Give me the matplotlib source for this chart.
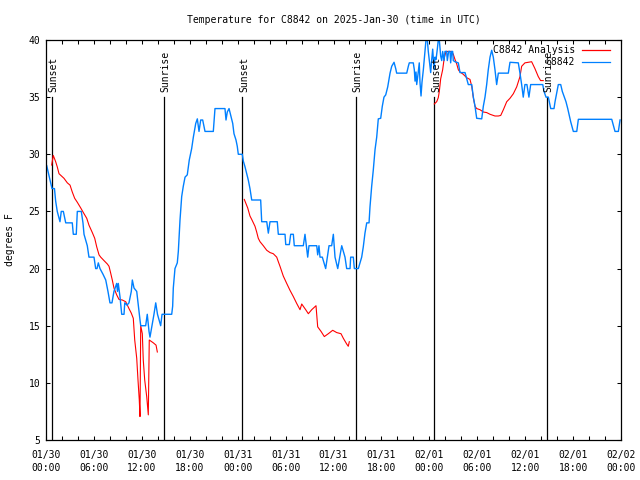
import matplotlib
matplotlib.use("Agg")
import matplotlib.pyplot as plt
from datetime import datetime, timedelta

# ---- data (hours since 2025-01-30 00:00 UTC) ----
obs_hours = [0.09, 0.59, 0.75, 1.06, 1.21, 1.41, 1.75, 1.91, 2.17, 2.47, 3.29, 3.42, 3.79, 3.92,
             4.42, 4.63, 4.76, 5.17, 5.38, 6.01, 6.22, 6.39, 6.55, 6.76, 7.14, 7.48, 7.76, 8.01,
             8.26, 8.51, 8.85, 8.95, 9.05, 9.27, 9.48, 9.77, 9.86, 10.14, 10.39, 10.68, 10.81,
             11.02, 11.36, 11.52, 11.77, 11.86, 12.48, 12.68, 12.90, 13.02, 13.27, 13.52, 13.74,
             13.96, 14.36, 14.53, 14.78, 15.74, 15.86, 15.94, 16.15, 16.44, 16.57, 16.78, 16.99,
             17.19, 17.41, 17.69, 17.94, 18.24, 18.45, 18.75, 18.95, 19.16, 19.37, 19.62, 19.91,
             20.95, 21.16, 22.41, 22.54, 22.70, 22.92, 23.38, 23.54, 23.79, 23.95, 24.08, 24.58,
             24.71, 24.92, 25.13, 25.33, 25.54, 25.76, 26.88, 27.01, 27.64, 27.84, 28.05, 28.96,
             29.09, 29.93, 30.02, 30.47, 30.64, 30.97, 31.09, 32.22, 32.43, 32.77, 32.93, 33.90,
             34.02, 34.18, 34.31, 34.60, 35.02, 35.44, 35.77, 35.98, 36.19, 36.53, 37.03, 37.44,
             37.65, 38.07, 38.15, 38.48, 38.61, 39.11, 39.32, 39.53, 39.73, 39.94, 40.16, 40.45,
             40.57, 40.78, 40.98, 41.20, 41.41, 41.61, 41.91, 42.11, 42.32, 42.54, 42.79, 43.08,
             43.29, 43.58, 43.79, 43.91, 45.17, 45.37, 45.49, 45.99, 46.12, 46.21, 46.33, 46.42,
             46.58, 46.74, 46.83, 46.96, 47.08, 47.25, 47.46, 47.58, 47.75, 47.87, 48.00, 48.17,
             48.30, 48.42, 48.59, 48.71, 48.84, 49.00, 49.12, 49.25, 49.42, 49.55, 49.67, 49.84,
             49.96, 50.17, 50.25, 50.42, 50.59, 50.67, 50.80, 50.92, 51.00, 51.21, 51.63, 51.84,
             52.47, 52.68, 52.88, 53.31, 53.51, 53.72, 53.93, 54.56, 54.76, 54.97, 55.18, 55.38,
             55.60, 55.81, 56.01, 56.22, 56.43, 56.64, 57.89, 58.10, 59.14, 59.35, 59.56, 59.76,
             59.97, 60.22, 60.47, 60.69, 62.20, 62.36, 62.61, 62.90, 63.20, 63.61, 63.74, 64.15,
             64.45, 64.65, 64.90, 65.11, 65.33, 65.70, 66.03, 66.46, 66.66, 70.84, 71.25, 71.67,
             71.88]
obs_temps = [29.0, 27.5, 27.0, 27.0, 25.9, 25.0, 24.1, 25.0, 25.0, 24.0, 24.0, 23.0, 23.0, 25.0,
             25.0, 24.0, 23.0, 22.0, 21.0, 21.0, 20.0, 20.0, 20.5, 20.0, 19.5, 19.0, 18.0, 17.0,
             17.0, 18.0, 18.7, 18.0, 18.7, 17.5, 16.0, 16.0, 17.0, 16.8, 17.0, 18.0, 19.0,
             18.3, 18.0, 17.0, 15.5, 15.0, 15.0, 16.0, 14.5, 14.0, 15.0, 16.0, 17.0,
             16.0, 15.0, 16.0, 16.0, 16.0, 16.7, 18.3, 20.0, 20.5, 21.5, 24.25, 26.3,
             27.2, 28.0, 28.2, 29.5, 30.5, 31.5, 32.7, 33.1, 32.0, 33.0, 33.0, 32.0,
             32.0, 34.0, 34.0, 33.0, 33.7, 34.0, 32.7, 31.8, 31.25, 30.7, 30.0, 30.0,
             29.4, 28.9, 28.3, 27.75, 27.0, 26.0, 26.0, 24.1, 24.1, 23.1, 24.1, 24.1,
             23.0, 23.0, 22.1, 22.1, 23.0, 23.0, 22.0, 22.0, 23.0, 21.0, 22.0, 22.0,
             21.2, 22.0, 21.0, 21.0, 20.0, 22.0, 22.0, 23.0, 21.0, 20.0, 22.0, 21.0,
             20.0, 20.0, 21.0, 21.0, 20.0, 20.0, 20.5, 21.0, 21.9, 23.1, 24.0, 24.0,
             25.4, 27.2, 28.6, 30.4, 31.5, 33.1, 33.15, 34.2, 35.0, 35.2, 35.9, 37.1,
             37.7, 38.05, 37.5, 37.1, 37.1, 37.7, 38.0, 38.0, 37.4, 36.4, 37.2, 36.1,
             37.0, 38.0, 36.3, 35.1, 36.3, 37.4, 39.0, 40.0, 40.0, 39.0, 38.2, 37.15,
             38.3, 39.2, 37.4, 38.5, 38.3, 39.2, 40.0, 40.0, 38.6, 38.2, 39.0, 38.2,
             39.0, 39.0, 38.2, 39.0, 39.0, 38.0, 39.0, 39.0, 38.2, 38.1, 38.0, 37.15,
             37.15, 36.6, 36.1, 36.1, 35.0, 34.2, 33.15, 33.1, 34.2, 35.0, 36.1, 37.4,
             38.5, 39.1, 38.5, 37.4, 36.1, 37.1, 37.1, 38.05, 38.0, 37.1, 36.1, 35.0,
             36.1, 36.1, 35.0, 36.1, 36.1, 35.5, 35.0, 35.0, 34.0, 34.0, 34.6, 36.1,
             36.1, 35.5, 35.0, 34.6, 34.0, 32.85, 32.0, 32.0, 33.06, 33.06, 32.0, 32.0,
             33.0]

ana1_hours = [0.71, 0.91, 1.21, 1.41, 1.63, 2.25, 2.67, 3.01, 3.29, 3.59, 3.92, 4.35, 4.76, 5.10,
              5.38, 5.80, 6.10, 6.35, 6.64, 6.85, 7.26, 7.68, 7.89, 8.10, 8.30, 8.51, 8.85, 9.14,
              9.55, 9.98, 10.39, 10.68, 10.93, 11.11, 11.36, 11.52, 11.68, 11.77, 11.86, 12.06,
              12.18, 12.36, 12.61, 12.81, 12.93, 13.44, 13.78, 13.94]
ana1_temps = [29.06, 29.9, 29.35, 28.9, 28.3, 27.9, 27.5, 27.3, 26.7, 26.15, 25.8, 25.3, 24.8, 24.4,
              23.8, 23.15, 22.65, 21.9, 21.2, 21.0, 20.7, 20.4, 20.2, 19.6, 19.0, 18.3, 17.7, 17.3,
              17.25, 17.1, 16.5, 16.1, 15.65, 13.75, 12.15, 10.25, 8.5, 7.05, 15.0, 14.3,
              12.0, 10.25, 8.8, 7.2, 13.75, 13.5, 13.3, 12.7]

ana2_hours = [24.83, 25.26, 25.54, 25.76, 26.17, 26.38, 26.58, 26.80, 27.21, 27.64, 28.05, 28.46,
              28.89, 29.09, 29.30, 29.71, 30.14, 30.55, 30.97, 31.39, 31.81, 32.02, 32.22, 32.52,
              32.85, 33.27, 33.81, 34.02, 34.44, 34.85, 35.35, 35.90, 36.40, 36.94, 37.23, 37.65,
              37.85, 37.98]
ana2_temps = [26.05, 25.3, 24.6, 24.3, 23.7, 23.2, 22.65, 22.35, 22.0, 21.6, 21.4, 21.3,
              21.0, 20.6, 20.2, 19.35, 18.7, 18.1, 17.55, 16.95, 16.4, 16.9, 16.7, 16.4,
              16.05, 16.4, 16.75, 14.9, 14.5, 14.05, 14.3, 14.6, 14.4, 14.3, 13.9, 13.4,
              13.2, 13.6]

ana3_hours = [48.62, 48.92, 49.12, 49.25, 49.42, 49.67, 49.87, 50.09, 50.59, 50.80, 51.00, 51.21,
              51.43, 51.63, 51.84, 52.25, 52.68, 53.09, 53.31, 53.51, 53.72, 53.93, 54.35, 54.76,
              55.18, 55.60, 56.22, 56.64, 56.94, 57.27, 57.69, 58.10, 58.52, 58.94, 59.35, 59.56,
              59.97, 60.39, 60.81, 61.22, 61.64, 61.93, 62.26]
ana3_temps = [34.4, 34.6, 34.95, 35.5, 36.6, 37.4, 38.45, 39.0, 39.0, 39.0, 38.75, 38.3,
              37.9, 37.4, 37.2, 37.0, 36.7, 36.55, 35.95, 34.95, 34.2, 34.0, 33.9, 33.7,
              33.65, 33.5, 33.35, 33.35, 33.4, 33.9, 34.6, 34.9, 35.3, 35.9, 36.8, 37.7,
              38.0, 38.05, 38.1, 37.5, 36.8, 36.45, 36.45]

sun_hours = [0.71, 14.81, 24.58, 38.78, 48.62, 62.73]
sun_labels = ["Sunset", "Sunrise", "Sunset", "Sunrise", "Sunset", "Sunrise"]

start = datetime(2025, 1, 30, 0, 0)
tick_hours = list(range(0, 73, 6))
tick_labels = [(start + timedelta(hours=h)).strftime("%m/%d\n%H:%M") for h in tick_hours]
y_ticks = [5, 10, 15, 20, 25, 30, 35, 40]

title = "Temperature for C8842 on 2025-Jan-30 (time in UTC)"
legend_labels = ["C8842 Analysis", "C8842"]
red = "#ff0000"
blue = "#0080ff"

plt.rcParams['font.family'] = ['DejaVu Sans Mono']
FS = 7

fig = plt.figure(figsize=(6.4, 4.8), dpi=100)
ax = fig.add_axes([46/640, 1-440/480, 575/640, 400/480])

ax.set_xlim(0, 72)
ax.set_ylim(5, 40)

for h, lab in zip(sun_hours, sun_labels):
    ax.plot([h, h], [5, 35], color="black", lw=0.9)
    ax.text(h + 0.2, 35.45, lab, rotation=90, ha="center", va="bottom", fontsize=FS)

for hs, ts in [(ana1_hours, ana1_temps), (ana2_hours, ana2_temps), (ana3_hours, ana3_temps)]:
    ax.plot(hs, ts, color=red, lw=0.8)
ax.plot(obs_hours, obs_temps, color=blue, lw=1.0)

ax.set_xticks(tick_hours)
ax.set_xticklabels(tick_labels, fontsize=FS, linespacing=1.35)
ax.set_xticks(list(range(0, 73, 2)), minor=True)
ax.set_yticks(y_ticks)
ax.set_yticklabels([str(v) for v in y_ticks], fontsize=FS)
ax.tick_params(which="both", direction="in", top=True, right=True, length=3.0, width=0.75)
ax.tick_params(axis="x", which="major", pad=7)
ax.tick_params(axis="y", which="major", pad=4)
for s in ax.spines.values():
    s.set_linewidth(0.9)

fig.text(10/640, 1 - 240/480, "degrees F", rotation=90, ha="center", va="center", fontsize=FS)
fig.text(0.5 * (46 + 621) / 640, 1 - 20/480, title, ha="center", va="center", fontsize=FS)

# legend (gnuplot-style: right-aligned text, sample line to the right)
rows = [(legend_labels[0], red, 0.975), (legend_labels[1], blue, 0.945)]
for lab, col, yy in rows:
    ax.text(0.92, yy, lab, transform=ax.transAxes, ha="right", va="center", fontsize=FS)
    ax.plot([0.932, 0.981], [yy, yy], transform=ax.transAxes, color=col, lw=0.9)

fig.savefig("out.png", dpi=100)
